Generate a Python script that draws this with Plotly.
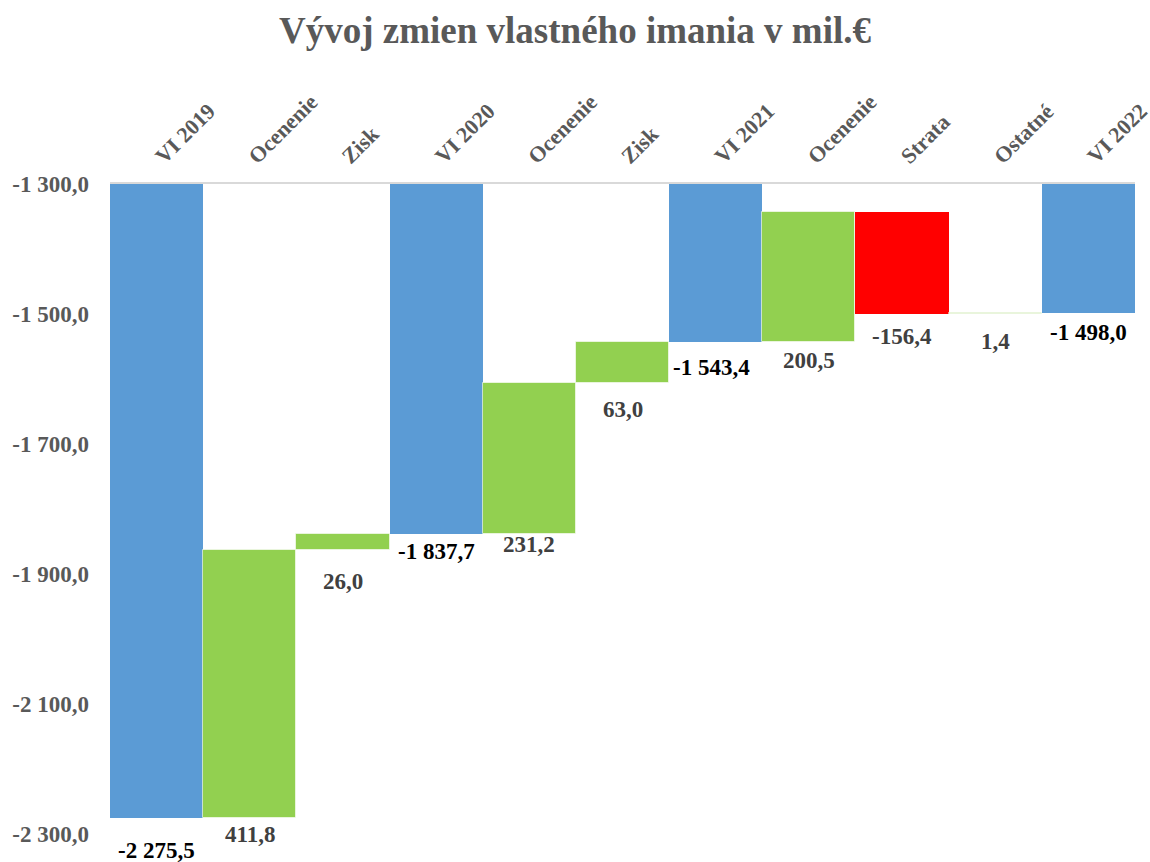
import plotly.graph_objects as go

# ---- data ----
categories = ["VI 2019", "Ocenenie", "Zisk", "VI 2020", "Ocenenie", "Zisk",
              "VI 2021", "Ocenenie", "Strata", "Ostatné", "VI 2022"]
measures = ["absolute", "relative", "relative", "absolute", "relative", "relative",
            "absolute", "relative", "relative", "relative", "absolute"]
values = [-2275.5, 411.8, 26.0, -1837.7, 231.2, 63.0, -1543.4, 200.5, -156.4, 1.4, -1498.0]
y_ticks = [-2300, -2100, -1900, -1700, -1500, -1300]

# ---- label styling (pixel offsets below bar bottoms) ----
label_yshift = [-32, -16, -31, -18, -11, -26, -25, -18, -23, -28, -20]
label_xshift = [0, 0, 0, 0, 0, 0, -4, 0, 0, 0, 0]

FONT = "Liberation Serif"
GRAY = "#595959"

x_pos = list(range(len(categories)))


def fmt(v):
    return f"{v:,.1f}".replace(",", " ").replace(".", ",")


fig = go.Figure()
fig.add_trace(go.Waterfall(
    x=x_pos,
    y=values,
    measure=measures,
    connector=dict(visible=False),
    increasing=dict(marker=dict(color="#92D050", line=dict(color="rgba(255,255,255,0.6)", width=1))),
    decreasing=dict(marker=dict(color="#FF0000", line=dict(width=0))),
    totals=dict(marker=dict(color="#5B9BD5", line=dict(width=0))),
    textinfo="none",
    hoverinfo="skip",
))

running = 0.0
annotations = []
for i, (m, v) in enumerate(zip(measures, values)):
    if m == "absolute":
        bottom = min(0.0, v)
        running = v
        color = "#000000"
    else:
        start, end = running, running + v
        bottom = min(start, end)
        running = end
        color = "#404040"
    annotations.append(dict(
        x=x_pos[i], y=bottom, xref="x", yref="y",
        text=fmt(v), showarrow=False,
        yanchor="middle", xanchor="center",
        yshift=label_yshift[i], xshift=label_xshift[i],
        font=dict(family=FONT, size=23, color=color, weight="bold"),
    ))

fig.update_layout(
    width=1150, height=862,
    paper_bgcolor="white", plot_bgcolor="white",
    separators=", ",
    waterfallgap=0,
    showlegend=False,
    margin=dict(l=110, r=15, t=184, b=28, autoexpand=False),
    title=dict(
        text="Vývoj zmien vlastného imania v mil.€",
        x=0.5, xanchor="center", y=1 - 30 / 862, yanchor="middle",
        yref="container",
        font=dict(family=FONT, size=37, color=GRAY, weight="bold"),
    ),
    annotations=annotations,
    xaxis=dict(
        side="top",
        tickmode="array", tickvals=x_pos, ticktext=categories,
        tickangle=-45,
        range=[-0.5, len(categories) - 0.5],
        showgrid=False, zeroline=False,
        showline=True, linecolor="#D9D9D9", linewidth=2,
        ticks="", ticklabelstandoff=5, automargin=False,
        ticklabeloverflow="allow",
        tickfont=dict(family=FONT, size=22, color=GRAY, weight="bold"),
    ),
    yaxis=dict(
        range=[-2300, -1300],
        tickmode="array", tickvals=y_ticks, ticktext=[fmt(v) for v in y_ticks],
        showgrid=False, zeroline=False, showline=False,
        ticks="", ticklabelstandoff=20, automargin=False,
        tickfont=dict(family=FONT, size=23, color=GRAY, weight="bold"),
    ),
)

fig.write_html(
    "out.html",
    config={"displayModeBar": False},
    post_script="document.body.style.margin='0';document.body.style.overflow='hidden';",
)
